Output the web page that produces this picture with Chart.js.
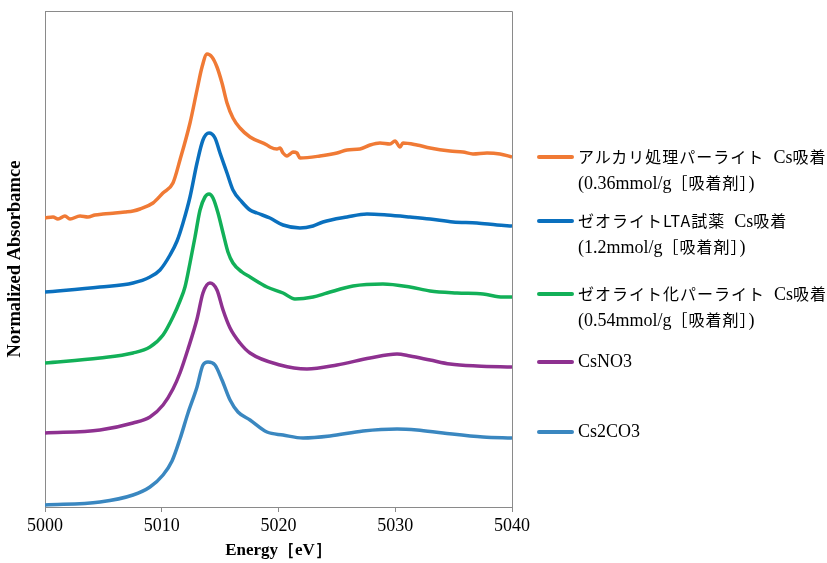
<!DOCTYPE html>
<html>
<head>
<meta charset="utf-8">
<script src="https://cdn.jsdelivr.net/npm/chart.js@4"></script>
<style>
  body { margin: 0; background: #fff; }
  #wrap { position: relative; width: 827px; height: 563px; }
  #legend { position: absolute; left: 0; top: 0; font-family: "Liberation Serif", "Noto Sans CJK JP", serif; font-size: 18px; color: #000; }
  .item { position: absolute; left: 537px; white-space: nowrap; }
  .swatch { position: absolute; left: 0; width: 37px; height: 4px; border-radius: 2px; }
  .txt { position: absolute; left: 41px; line-height: 25px; }
  .jp { font-family: "Noto Sans CJK JP", sans-serif; font-size: 16px; letter-spacing: 1px; }
</style>
</head>
<body>
<div id="wrap">
  <canvas id="myChart" width="827" height="563"></canvas>
  <div id="legend"></div>
</div>
<script>
const ctx = document.querySelector("#myChart").getContext("2d");

// energies (eV) and normalized absorbance (stacked with offsets as in the figure)
const alkaliE = [5000, 5000.69, 5001.11, 5001.71, 5002.14, 5003.0, 5003.68, 5004.28, 5004.97, 5006.0, 5006.85, 5007.54, 5008.14, 5009.25, 5010.1, 5010.96, 5011.56, 5012.42, 5013.02, 5013.45, 5013.88, 5014.30, 5014.73, 5015.16, 5015.59, 5016.10, 5016.70, 5017.56, 5019.01, 5019.27, 5019.87, 5020.13, 5020.39, 5020.73, 5020.99, 5021.24, 5021.58, 5021.84, 5023.55, 5025.01, 5025.87, 5026.98, 5027.84, 5028.69, 5029.55, 5029.98, 5030.41, 5030.66, 5031.86, 5032.98, 5034.69, 5035.8, 5036.66, 5037.86, 5038.97, 5040];
const alkaliA = [2.89, 2.90, 2.88, 2.91, 2.88, 2.91, 2.90, 2.92, 2.93, 2.94, 2.95, 2.96, 2.98, 3.04, 3.14, 3.24, 3.47, 3.84, 4.17, 4.40, 4.53, 4.50, 4.40, 4.24, 4.04, 3.89, 3.79, 3.70, 3.62, 3.60, 3.58, 3.59, 3.54, 3.51, 3.53, 3.55, 3.54, 3.49, 3.51, 3.54, 3.57, 3.58, 3.62, 3.64, 3.63, 3.66, 3.60, 3.64, 3.62, 3.59, 3.56, 3.55, 3.53, 3.54, 3.53, 3.50];

const ltaE = [5000, 5004.71, 5007.54, 5008.99, 5009.85, 5010.71, 5011.31, 5011.82, 5012.42, 5013.02, 5013.53, 5014.05, 5014.56, 5014.99, 5015.59, 5016.10, 5016.87, 5017.56, 5018.16, 5019.27, 5020.39, 5021.84, 5022.96, 5023.81, 5025.87, 5027.58, 5029.29, 5031.26, 5032.98, 5034.95, 5037.0, 5038.72, 5040];
const ltaA = [2.15, 2.20, 2.24, 2.30, 2.37, 2.52, 2.66, 2.84, 3.10, 3.44, 3.67, 3.74, 3.69, 3.54, 3.34, 3.17, 3.05, 2.97, 2.94, 2.89, 2.82, 2.79, 2.81, 2.85, 2.90, 2.93, 2.92, 2.90, 2.88, 2.85, 2.84, 2.82, 2.81];

const zeoE = [5000, 5004.71, 5007.54, 5008.99, 5010.11, 5010.96, 5011.56, 5011.99, 5012.42, 5012.85, 5013.28, 5013.70, 5014.05, 5014.39, 5014.82, 5015.25, 5015.67, 5016.10, 5016.87, 5017.56, 5019.01, 5020.39, 5021.41, 5022.96, 5024.15, 5026.38, 5028.95, 5031.26, 5032.98, 5035.29, 5037.52, 5039.23, 5040];
const zeoA = [1.44, 1.49, 1.54, 1.60, 1.72, 1.90, 2.06, 2.20, 2.44, 2.70, 2.97, 3.10, 3.13, 3.09, 2.94, 2.74, 2.55, 2.44, 2.35, 2.30, 2.20, 2.14, 2.08, 2.10, 2.14, 2.21, 2.23, 2.20, 2.16, 2.14, 2.13, 2.10, 2.10];

const no3E = [5000, 5004.71, 5007.54, 5008.99, 5010.11, 5010.96, 5011.56, 5012.25, 5013.02, 5013.53, 5014.13, 5014.73, 5015.25, 5015.85, 5016.70, 5017.56, 5020.13, 5022.44, 5025.01, 5027.84, 5030.15, 5031.26, 5032.98, 5034.69, 5037.0, 5040];
const no3A = [0.74, 0.77, 0.84, 0.90, 1.02, 1.18, 1.34, 1.58, 1.88, 2.14, 2.24, 2.17, 1.97, 1.79, 1.64, 1.54, 1.42, 1.38, 1.42, 1.49, 1.53, 1.51, 1.47, 1.43, 1.41, 1.40];

const co3E = [5000, 5004.71, 5007.54, 5008.99, 5010.11, 5010.88, 5011.56, 5012.25, 5013.02, 5013.53, 5013.96, 5014.56, 5015.16, 5015.85, 5016.53, 5017.56, 5019.01, 5020.39, 5022.1, 5024.41, 5027.24, 5030.15, 5031.86, 5034.09, 5037.52, 5040];
const co3A = [0.02, 0.05, 0.12, 0.20, 0.32, 0.46, 0.68, 0.94, 1.20, 1.42, 1.45, 1.42, 1.27, 1.07, 0.95, 0.87, 0.75, 0.72, 0.69, 0.71, 0.76, 0.78, 0.77, 0.74, 0.70, 0.69];

const seriesNames = ["アルカリ処理パーライト Cs吸着", "ゼオライトLTA試薬 Cs吸着", "ゼオライト化パーライト Cs吸着", "CsNO3", "Cs2CO3"];
const legendLines = [
    ["<span class=\"jp\">アルカリ処理パーライト</span>&nbsp;&nbsp;Cs<span class=\"jp\">吸着</span>", "(0.36mmol/g<span class=\"jp\">［吸着剤］</span>)"],
    ["<span class=\"jp\">ゼオライトLTA試薬</span>&nbsp;&nbsp;Cs<span class=\"jp\">吸着</span>", "(1.2mmol/g<span class=\"jp\">［吸着剤］</span>)"],
    ["<span class=\"jp\">ゼオライト化パーライト</span>&nbsp;&nbsp;Cs<span class=\"jp\">吸着</span>", "(0.54mmol/g<span class=\"jp\">［吸着剤］</span>)"],
    ["CsNO3"],
    ["Cs2CO3"],
];
const colors = ["#F07A35", "#0A70BE", "#12B058", "#8E3190", "#3A87C0"];
const legendTops = [157, 221, 294, 362, 432];

const pairs = (xs, ys) => xs.map((x, i) => ({ x: x, y: ys[i] }));
const seriesData = [
    pairs(alkaliE, alkaliA),
    pairs(ltaE, ltaA),
    pairs(zeoE, zeoA),
    pairs(no3E, no3A),
    pairs(co3E, co3A),
];

const frame = {
    id: "frame",
    afterDraw(chart) {
        const a = chart.chartArea;
        const c = chart.ctx;
        c.save();
        c.strokeStyle = "#8a8a8a";
        c.lineWidth = 1;
        c.beginPath();
        c.moveTo(a.left, a.top + 0.5);
        c.lineTo(a.right + 0.5, a.top + 0.5);
        c.lineTo(a.right + 0.5, a.bottom);
        c.stroke();
        c.restore();
    }
};

const config = {
    type: "line",
    data: {
        datasets: seriesData.map((d, i) => ({
            label: seriesNames[i],
            data: d,
            borderColor: colors[i],
            backgroundColor: colors[i],
            borderWidth: 3.5,
            pointRadius: 0,
            cubicInterpolationMode: "monotone",
            fill: false,
        }))
    },
    options: {
        responsive: false,
        animation: false,
        layout: { padding: { top: 11, right: 315, left: 0, bottom: 0 } },
        plugins: { legend: { display: false }, tooltip: { enabled: false } },
        scales: {
            x: {
                type: "linear",
                min: 5000,
                max: 5040,
                ticks: {
                    stepSize: 10,
                    color: "#000",
                    padding: 3,
                    font: { family: "Liberation Serif", size: 18 },
                    callback: (v) => String(v),
                },
                grid: { display: true, drawOnChartArea: false, drawTicks: true, tickLength: 5, color: "#8a8a8a" },
                border: { display: true, color: "#8a8a8a" },
                title: {
                    display: true,
                    text: "Energy［eV］",
                    color: "#000",
                    padding: { top: 0, bottom: 2 },
                    font: { family: "Liberation Serif", size: 17, weight: "bold" },
                },
                afterFit: (s) => { s.height = 56; },
            },
            y: {
                min: 0,
                max: 4.96,
                ticks: { display: false },
                grid: { display: false },
                border: { display: true, color: "#8a8a8a" },
                title: {
                    display: true,
                    text: "Normalized Absorbamce",
                    color: "#000",
                    padding: { top: 4, bottom: 0 },
                    font: { family: "Liberation Serif", size: 18.5, weight: "bold" },
                },
                afterFit: (s) => { s.width = 45; },
            }
        }
    },
    plugins: [frame]
};

const myChart = new Chart(ctx, config);

// html legend
const legend = document.querySelector("#legend");
legendLines.forEach((lines, i) => {
    const item = document.createElement("div");
    item.className = "item";
    item.style.top = (legendTops[i] - 2) + "px";
    const sw = document.createElement("div");
    sw.className = "swatch";
    sw.style.background = colors[i];
    item.appendChild(sw);
    const t = document.createElement("div");
    t.className = "txt";
    t.style.top = "-11px";
    t.innerHTML = lines.join("<br>");
    item.appendChild(t);
    legend.appendChild(item);
});
</script>
</body>
</html>
